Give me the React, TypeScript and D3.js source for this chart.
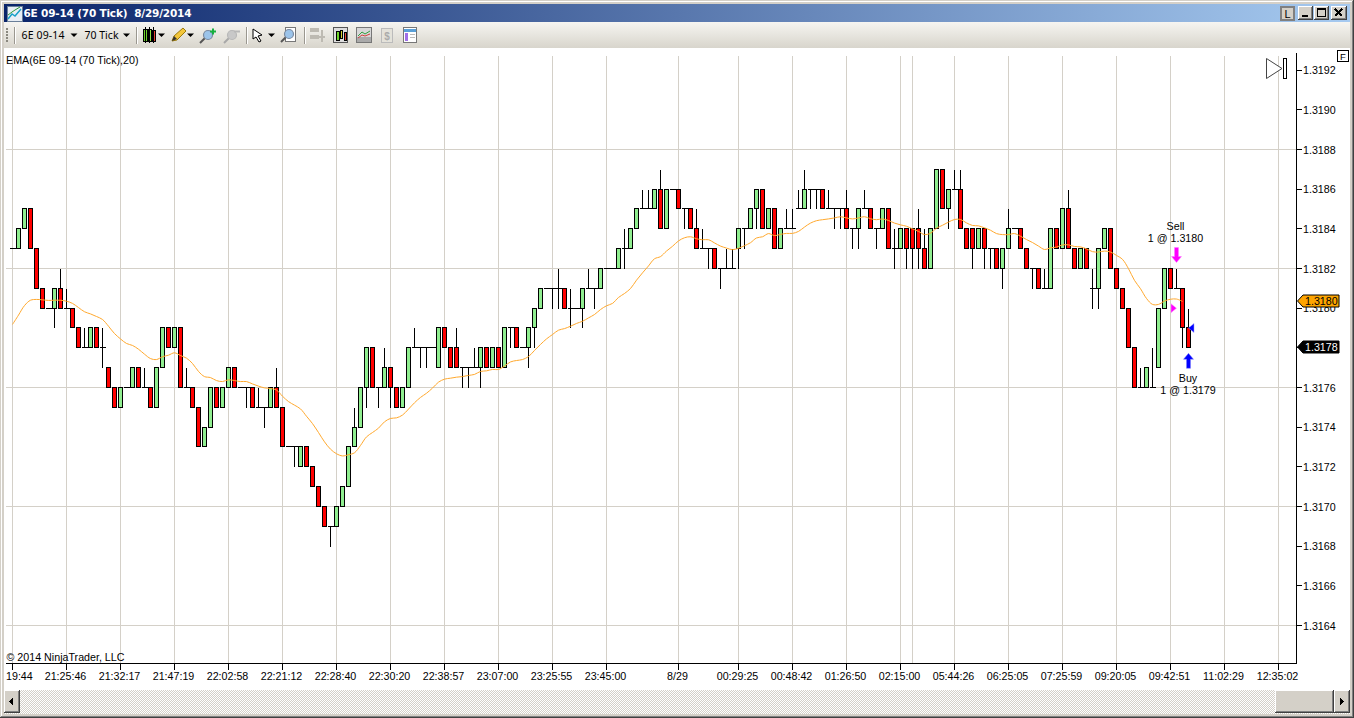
import React from "react";
import * as d3 from "d3";

// All prices are in ticks above 1.3100 (83 = 1.3183).
const opens = [
  83,83,84,85,83,81,80,80,81,80, 80,79,78,78,79,78,77,76,75,76,
  76,77,76,76,75,77,79,78,79,76, 76,75,73,74,76,75,76,77,76,76,
  76,75,75,75,76,75,73,73,72,73, 72,71,70,69,69,70,71,73,74,76,
  78,76,76,77,76,75,76,78,78,78, 78,77,79,78,78,77,77,77,77,78,
  77,78,77,79,79,78,78,79,80,81, 81,81,81,80,80,80,81,81,81,82,
  82,82,83,83,84,85,85,85,86,84, 86,86,85,85,84,83,83,83,82,82,
  82,83,84,84,85,86,84,85,83,84, 84,85,85,86,86,86,85,85,85,85,
  84,84,85,85,84,84,85,83,83,84, 84,84,83,82,84,87,85,86,86,84,
  84,83,84,83,83,82,83,84,84,83, 82,82,81,81,84,83,85,83,82,83,
  81,81,83,84,82,81,80,78,76,76, 76,77,80,82,81,81,79,
];
const highs = [
  83,84,85,85,83,81,80,81,82,81, 80,79,79,79,79,79,77,76,76,76,
  77,77,77,76,77,79,79,79,79,77, 76,75,74,76,76,76,77,77,76,76,
  76,76,75,76,77,75,73,73,73,73, 72,71,70,69,70,71,73,75,76,78,
  78,76,78,77,76,76,78,79,78,78, 78,79,79,78,79,77,77,78,78,78,
  78,78,79,79,79,78,79,80,81,81, 81,82,81,81,80,81,82,81,82,82,
  82,83,84,84,85,86,86,86,87,86, 86,86,85,85,85,84,83,83,82,83,
  83,84,84,85,86,86,85,85,84,85, 85,86,87,86,86,86,86,85,85,86,
  84,85,86,85,84,85,85,84,84,84, 84,85,84,84,87,87,86,87,87,84,
  84,84,84,83,83,83,85,84,84,83, 82,82,82,84,84,85,86,83,83,83,
  82,83,84,84,82,81,80,78,77,77, 78,80,82,82,82,81,80,
];
const lows = [
  83,83,84,83,81,80,80,79,80,80, 79,78,78,78,78,77,76,75,75,76,
  76,76,76,75,75,77,78,78,76,76, 75,73,73,74,75,75,76,76,76,75,
  75,75,74,75,75,73,73,72,72,72, 71,70,69,68,69,70,71,73,74,75,
  76,75,76,75,75,75,76,78,77,77, 78,77,78,77,77,76,76,77,76,77,
  77,77,77,78,78,78,77,78,80,81, 80,80,80,79,80,79,81,80,81,82,
  82,82,82,83,84,85,85,85,84,84, 86,85,84,84,83,83,82,82,81,82,
  82,82,83,84,84,84,84,83,83,84, 84,85,85,85,85,85,85,84,84,84,
  83,83,85,84,83,84,83,82,83,82, 82,82,82,82,84,85,84,86,84,83,
  82,83,82,82,82,81,83,84,83,82, 81,81,81,81,83,83,83,82,82,82,
  80,80,83,82,81,80,78,76,76,76, 76,77,80,81,81,78,78,
];
const closes = [
  83,84,85,83,81,80,80,81,80,80, 79,78,78,79,78,78,76,75,76,76,
  77,76,76,75,77,79,78,79,76,76, 75,73,74,76,75,76,77,76,76,76,
  75,75,75,76,75,73,73,73,73,72, 71,70,69,69,70,71,73,74,76,78,
  76,76,77,76,75,76,78,78,78,78, 78,79,78,77,77,77,77,77,78,77,
  78,77,79,79,78,78,79,80,81,81, 81,81,80,80,80,81,81,81,82,82,
  82,83,83,84,85,85,85,86,84,86, 86,85,85,84,83,83,83,82,82,82,
  82,84,84,85,86,84,85,83,84,84, 84,85,86,86,86,85,85,85,85,84,
  84,85,85,84,84,85,83,83,84,83, 83,83,82,84,87,85,86,86,84,83,
  83,84,83,83,82,83,84,84,83,82, 82,81,81,84,83,85,83,82,83,82,
  81,83,84,82,81,80,78,76,76,77, 76,80,82,81,81,79,78,
];
const ema = [
  79.18,79.65,80.13,80.40,80.44,80.42,80.39,80.40,80.40,80.35,
  80.24,80.03,79.82,79.71,79.58,79.43,79.09,78.72,78.45,78.22,
  78.12,77.93,77.68,77.46,77.41,77.55,77.63,77.75,77.61,77.48,
  77.21,76.81,76.55,76.50,76.35,76.30,76.39,76.35,76.30,76.30,
  76.18,76.07,75.98,75.95,75.87,75.56,75.29,75.11,74.92,74.55,
  74.18,73.73,73.26,72.89,72.66,72.55,72.61,72.71,73.08,73.51,
  73.73,73.95,74.27,74.44,74.47,74.61,74.91,75.23,75.50,75.71,
  75.97,76.27,76.42,76.47,76.52,76.55,76.61,76.66,76.81,76.84,
  76.91,76.91,77.08,77.29,77.36,77.41,77.56,77.87,78.17,78.45,
  78.67,78.89,78.97,79.09,79.23,79.34,79.51,79.68,79.93,80.12,
  80.24,80.54,80.74,80.99,81.41,81.78,82.13,82.49,82.60,82.88,
  83.12,83.39,83.55,83.60,83.50,83.45,83.45,83.29,83.13,83.03,
  82.95,83.02,83.15,83.30,83.54,83.60,83.76,83.66,83.72,83.77,
  83.77,83.87,84.09,84.29,84.41,84.46,84.50,84.55,84.61,84.55,
  84.50,84.55,84.61,84.51,84.46,84.50,84.42,84.29,84.20,84.13,
  84.00,83.87,83.71,83.78,84.03,84.18,84.34,84.47,84.47,84.30,
  84.17,84.15,84.05,83.93,83.76,83.71,83.71,83.76,83.63,83.46,
  83.31,83.13,82.96,83.04,83.08,83.19,83.19,83.11,83.09,82.99,
  82.85,82.83,82.88,82.83,82.66,82.46,81.99,81.40,80.98,80.49,
  80.19,80.19,80.36,80.45,80.46,80.34,
];
const timeTickBars = [0,9,18,27,36,45,54,63,72,81,90,99,111,121,130,139,148,157,166,175,184,193,202,211];
const timeTickLabels = [
  "19:44","21:25:46","21:32:17","21:47:19","22:02:58","22:21:12","22:28:40","22:30:20",
  "22:38:57","23:07:00","23:25:55","23:45:00","8/29","00:29:25","00:48:42","01:26:50",
  "02:15:00","05:44:26","06:25:05","07:25:59","09:20:05","09:42:51","11:02:29","12:35:02",
];
const sessionBreakBars = [150];
const priceTicks = [92,90,88,86,84,82,80,78,76,74,72,70,68,66,64];
const priceGrid = [88,82,76,70,64];
const sellBar = 194, sellFill = 80, buyBar = 196, buyFill = 79;

const W = 1354, H = 718;
const AXIS_X = 1296.5, AXIS_Y = 663.5, TOP = 56;
const x = d3.scaleLinear().domain([0, 1]).range([12.5, 18.5]);
const yPrice = d3.scaleLinear().domain([1.3188, 1.3164]).range([149.5, 625.5]);
const y = (t: number) => yPrice(1.31 + t / 10000);
const fmt = d3.format(".4f");
const snap = (v: number) => Math.round(v - 0.5) + 0.5;

const emaPath = d3.line<number>().x((_, i) => x(i)).y((d) => y(d)).curve(d3.curveCatmullRom.alpha(0.5))(ema) as string;

const ARIAL = "'Liberation Sans', Arial, sans-serif";
const UI = "'Noto Sans', 'DejaVu Sans', sans-serif";

const Tri = ({ cx, cy }: { cx: number; cy: number }) => (
  <path d={`M${cx - 3.5} ${cy - 1.5}h7l-3.5 3.5z`} fill="#000" />
);
const Sep = ({ px }: { px: number }) => (
  <g shapeRendering="crispEdges">
    <line x1={px} x2={px} y1={27} y2={44} stroke="#9a978f" />
    <line x1={px + 1} x2={px + 1} y1={27} y2={44} stroke="#fff" />
  </g>
);
const Btn3D = ({ bx, by, w, h, children }: any) => (
  <g shapeRendering="crispEdges">
    <rect x={bx} y={by} width={w} height={h} fill="#D4D0C8" />
    <path d={`M${bx + 0.5} ${by + h}V${by + 0.5}H${bx + w}`} stroke="#fff" fill="none" />
    <path d={`M${bx} ${by + h - 0.5}H${bx + w - 0.5}V${by}`} stroke="#404040" fill="none" />
    <path d={`M${bx + 1} ${by + h - 1.5}H${bx + w - 1.5}V${by + 1}`} stroke="#808080" fill="none" />
    {children}
  </g>
);
const Magnifier = ({ cx, cy, gray }: { cx: number; cy: number; gray?: boolean }) => (
  <g>
    <line x1={cx - 7} y1={cy + 7} x2={cx - 2} y2={cy + 2} stroke={gray ? "#a8a8a8" : "#555"} strokeWidth={2} />
    <circle cx={cx + 1} cy={cy - 1} r={4.5} fill={gray ? "#c8c8c8" : "#9cc4ea"} stroke={gray ? "#b8b8b8" : "#7a8aa0"} strokeWidth={1.2} />
  </g>
);

function Chrome() {
  return (
    <g>
      <rect width={W} height={H} fill="#D4D0C8" />
      <g shapeRendering="crispEdges">
        <line x1={0} x2={W} y1={0.5} y2={0.5} stroke="#D4D0C8" />
        <line x1={1} x2={W - 2} y1={1.5} y2={1.5} stroke="#fff" />
        <line x1={1.5} x2={1.5} y1={1} y2={H - 2} stroke="#fff" />
        <line x1={W - 0.5} x2={W - 0.5} y1={0} y2={H} stroke="#404040" />
        <line x1={W - 1.5} x2={W - 1.5} y1={1} y2={H - 1} stroke="#808080" />
        <line x1={0} x2={W} y1={H - 0.5} y2={H - 0.5} stroke="#404040" />
        <line x1={1} x2={W - 1} y1={H - 1.5} y2={H - 1.5} stroke="#808080" />
      </g>
      <rect x={4} y={4} width={1346} height={18} fill="url(#titleGrad)" />
      <g shapeRendering="crispEdges">
        <rect x={7} y={6} width={15} height={15} fill="#e8eef5" stroke="#6a7f99" strokeWidth={1} />
      </g>
      <path d="M8 19l4-5 3 2 6-7" stroke="#16a0c8" strokeWidth={1.5} fill="none" />
      <path d="M8 15l4-3 3-2 5-3" stroke="#2d9a3a" strokeWidth={1} fill="none" />
      <text x={23.5} y={17} fontFamily="'DejaVu Sans', sans-serif" fontWeight="bold" fontSize={10.5} fill="#fff" textLength={168} lengthAdjust="spacing" xmlSpace="preserve">{"6E 09-14 (70 Tick)  8/29/2014"}</text>
      <g shapeRendering="crispEdges">
        <rect x={1281} y={7} width={13} height={13} fill="#D4D0C8" stroke="#808080" strokeWidth={1.5} />
      </g>
      <text x={1287.5} y={17.5} textAnchor="middle" fontFamily={ARIAL} fontSize={11} fill="#000">L</text>
      <Btn3D bx={1298} by={6} w={15} h={14}>
        <rect x={1302} y={15} width={6} height={2} fill="#000" />
      </Btn3D>
      <Btn3D bx={1314} by={6} w={15} h={14}>
        <rect x={1317.5} y={8.5} width={8} height={8} fill="none" stroke="#000" />
        <line x1={1317} x2={1326} y1={9.5} y2={9.5} stroke="#000" />
      </Btn3D>
      <Btn3D bx={1331} by={6} w={16} h={14}>
        <path d="M1335 9l7 7M1342 9l-7 7" stroke="#000" strokeWidth={1.6} />
      </Btn3D>

      <rect x={4} y={22} width={1346} height={26} fill="url(#toolGrad)" />
      <g fill="#8a887f">
        {[28, 31, 34, 37, 40].map((v) => <rect key={v} x={6} y={v} width={2} height={2} />)}
      </g>
      <Sep px={14.5} />
      <text x={21.5} y={39} fontFamily={UI} fontSize={10.5} fill="#000" textLength={43}>6E 09-14</text>
      <Tri cx={74} cy={35} />
      <text x={84.5} y={39} fontFamily={UI} fontSize={10.5} fill="#000" textLength={34}>70 Tick</text>
      <Tri cx={126.5} cy={35} />
      <Sep px={136.5} />
      <g shapeRendering="crispEdges">
        <rect x={143} y={29} width={4} height={12} fill="#6fd42c" stroke="#000" />
        <rect x={148} y={29} width={3} height={12} fill="#8fe040" stroke="#000" />
        <rect x={152} y={30} width={3} height={11} fill="#e84030" stroke="#000" />
        <line x1={145} x2={145} y1={27} y2={43} stroke="#000" />
        <line x1={149.5} x2={149.5} y1={27} y2={43} stroke="#000" />
        <line x1={153.5} x2={153.5} y1={27} y2={43} stroke="#000" />
      </g>
      <Tri cx={161.5} cy={35} />
      <path d="M172 41l2-5 9-8 3 3-9 9z" fill="#f3c63a" stroke="#9a7a10" />
      <path d="M172 41l2-5 3 3z" fill="#333" />
      <Tri cx={190.5} cy={35} />
      <Magnifier cx={207} cy={36} />
      <path d="M210 31.5h6M213 28.5v6" stroke="#16b040" strokeWidth={2} />
      <Magnifier cx={231} cy={36} gray />
      <path d="M234 31.5h6" stroke="#b8b8b8" strokeWidth={2} />
      <Sep px={246.5} />
      <path d="M253 29v10l3-2 3 5 2-1-3-5 4-1z" fill="#fff" stroke="#000" />
      <Tri cx={271.5} cy={35} />
      <rect x={285.5} y={27.5} width={10} height={14} fill="#fff" stroke="#777" />
      <Magnifier cx={288} cy={35} />
      <Sep px={304.5} />
      <g fill="#bdbab2" shapeRendering="crispEdges">
        <rect x={310} y={28} width={9} height={4} />
        <rect x={310} y={35} width={9} height={4} />
        <rect x={321} y={30} width={2} height={12} />
        <rect x={317} y={36} width={8} height={2} />
      </g>
      <g shapeRendering="crispEdges">
        <rect x={333.5} y={27.5} width={14} height={15} fill="#ddd" stroke="#555" />
        <rect x={336} y={31} width={3} height={9} fill="#6fd42c" stroke="#000" />
        <rect x={340} y={30} width={2} height={8} fill="#d8d030" stroke="#000" />
        <rect x={344} y={32} width={2} height={8} fill="#e84030" stroke="#000" />
        <rect x={356.5} y={27.5} width={15} height={15} fill="#d8d8d8" stroke="#777" />
        <rect x={357} y={37} width={14} height={5} fill="#aaa" />
      </g>
      <path d="M358 36l4-4 3 2 5-3" stroke="#30a040" fill="none" />
      <path d="M358 38l4-3 3 1 5-2" stroke="#d04040" fill="none" />
      <rect x={381.5} y={28.5} width={11} height={14} fill="#e4e2da" stroke="#bbb" shapeRendering="crispEdges" />
      <text x={387} y={39.5} textAnchor="middle" fontFamily={ARIAL} fontWeight="bold" fontSize={10} fill="#aaa">$</text>
      <g shapeRendering="crispEdges">
        <rect x={403.5} y={27.5} width={13} height={15} fill="#fff" stroke="#777" />
        <rect x={404} y={29} width={12} height={3} fill="#5aa0d8" />
        <rect x={405} y={33} width={3} height={8} fill="#a070e8" />
        <rect x={410} y={34} width={5} height={1} fill="#bbb" />
        <rect x={410} y={37} width={5} height={1} fill="#bbb" />
      </g>

      <rect x={4} y={48} width={1346} height={642} fill="#fff" />

      <rect x={4} y={690} width={1346} height={24} fill="url(#dither)" />
      <Btn3D bx={4} by={690} w={16} h={23}>
        <path d="M9 701.5l4-4v8z" fill="#000" />
      </Btn3D>
      <Btn3D bx={1275} by={690} w={59} h={23} />
      <Btn3D bx={1334} by={690} w={16} h={23}>
        <path d="M1344 701.5l-4-4v8z" fill="#000" />
      </Btn3D>
    </g>
  );
}

function Plot() {
  const gridColor = "#D4D0C8";
  return (
    <g>
      <g stroke={gridColor} shapeRendering="crispEdges">
        {[...timeTickBars, ...sessionBreakBars].map((b) => (
          <line key={b} x1={x(b)} x2={x(b)} y1={TOP} y2={AXIS_Y} />
        ))}
        {priceGrid.map((t) => (
          <line key={t} x1={6} x2={AXIS_X} y1={snap(y(t))} y2={snap(y(t))} />
        ))}
      </g>

      <g shapeRendering="crispEdges">
        {opens.map((o, i) => {
          const cx = x(i), h = highs[i], l = lows[i], c = closes[i];
          const top = snap(y(Math.max(o, c))), bot = snap(y(Math.min(o, c)));
          return (
            <g key={i}>
              {h !== l && <line x1={cx} x2={cx} y1={snap(y(h))} y2={snap(y(l))} stroke="#000" />}
              {o === c ? (
                <line x1={cx - 3} x2={cx + 3} y1={top} y2={top} stroke="#000" />
              ) : (
                <rect x={cx - 2} y={top} width={4} height={bot - top} fill={c > o ? "#90EE90" : "#FF0000"} stroke="#000" />
              )}
            </g>
          );
        })}
      </g>

      <path d={emaPath} fill="none" stroke="#FFA92E" strokeWidth={1} />

      <g shapeRendering="crispEdges" stroke="#000">
        <line x1={AXIS_X} x2={AXIS_X} y1={53} y2={AXIS_Y + 0.5} />
        <line x1={6} x2={AXIS_X} y1={AXIS_Y} y2={AXIS_Y} />
        {timeTickBars.map((b) => (
          <line key={b} x1={x(b)} x2={x(b)} y1={AXIS_Y} y2={AXIS_Y + 6} />
        ))}
        {priceTicks.map((t) => (
          <line key={t} x1={AXIS_X} x2={AXIS_X + 5} y1={snap(y(t))} y2={snap(y(t))} />
        ))}
      </g>
      <g fontFamily={ARIAL} fontSize={10.7} fill="#000">
        {timeTickLabels.map((s, i) =>
          i === 0 ? (
            <text key={s} x={6} y={680}>{s}</text>
          ) : (
            <text key={s} x={x(timeTickBars[i]) - 1} y={680} textAnchor="middle">{s}</text>
          )
        )}
        {priceTicks.map((t) => (
          <text key={t} x={1303} y={y(t) + 4}>{fmt(1.31 + t / 10000)}</text>
        ))}
        <text x={6} y={64}>EMA(6E 09-14 (70 Tick),20)</text>
        <text x={6.5} y={661}>© 2014 NinjaTrader, LLC</text>
      </g>

      <rect x={1337.5} y={50.5} width={11} height={11} fill="#fff" stroke="#000" shapeRendering="crispEdges" />
      <text x={1343} y={60} textAnchor="middle" fontFamily={ARIAL} fontSize={9.5} fill="#000">F</text>

      <path d="M1266.5 58.5L1282 68.5L1266.5 78.5Z" fill="#fff" stroke="#444" />
      <rect x={1283.5} y={58.5} width={3} height={20} fill="#fff" stroke="#000" shapeRendering="crispEdges" />

      <g fontFamily={ARIAL} fontSize={10.7} fill="#000" textAnchor="middle">
        <text x={x(sellBar) - 1} y={y(highs[sellBar]) - 39}>Sell</text>
        <text x={x(sellBar) - 1} y={y(highs[sellBar]) - 27}>1 @ 1.3180</text>
        <text x={x(buyBar) - 0.5} y={y(lows[buyBar]) + 34}>Buy</text>
        <text x={x(buyBar) - 0.5} y={y(lows[buyBar]) + 46}>1 @ 1.3179</text>
      </g>
      <g transform={`translate(${x(sellBar)},${y(highs[sellBar]) - 6})`}>
        <path d="M-2-15h4v9h3l-5 6l-5-6h3z" fill="#FF00FF" stroke="#FF80FF" strokeWidth={0.5} />
      </g>
      <g transform={`translate(${x(buyBar)},${y(lows[buyBar]) + 5.5})`}>
        <path d="M-2 15h4v-9h3l-5-6l-5 6h3z" fill="#0000FF" stroke="#8080FF" strokeWidth={0.5} />
      </g>
      <path d={`M${x(sellBar) - 5.5} ${y(sellFill) - 4.5}v9l5.5-4.5z`} fill="#FF00FF" stroke="#FFA0FF" strokeWidth={0.5} />
      <path d={`M${x(buyBar) + 5.5} ${y(buyFill) - 4.5}v9l-5.5-4.5z`} fill="#0000FF" stroke="#A0A0FF" strokeWidth={0.5} />

      <Flag price={ema[ema.length - 1]} fill="#FFA500" color="#000" />
      <Flag price={closes[closes.length - 1]} fill="#000" color="#fff" />
    </g>
  );
}

function Flag({ price, fill, color }: { price: number; fill: string; color: string }) {
  const cy = snap(y(price)) - 0.5;
  return (
    <g>
      <path d={`M1297.5 ${cy}l5.5-6h36v12h-36z`} fill={fill} stroke="#000" />
      <text x={1305} y={cy + 4} fontFamily={ARIAL} fontSize={10.7} fill={color}>{fmt(1.31 + Math.round(price) / 10000)}</text>
    </g>
  );
}

export default function App() {
  return (
    <svg width={W} height={H} viewBox={`0 0 ${W} ${H}`} style={{ position: "fixed", left: 0, top: 0, display: "block" }}>
      <defs>
        <linearGradient id="titleGrad" x1="0" x2="1" y1="0" y2="0">
          <stop offset="0" stopColor="#0A246A" />
          <stop offset="1" stopColor="#A6CAF0" />
        </linearGradient>
        <linearGradient id="toolGrad" x1="0" x2="0" y1="0" y2="1">
          <stop offset="0" stopColor="#F6F5F1" />
          <stop offset="1" stopColor="#D8D5CC" />
        </linearGradient>
        <pattern id="dither" width={2} height={2} patternUnits="userSpaceOnUse">
          <rect width={2} height={2} fill="#D4D0C8" />
          <rect width={1} height={1} fill="#fff" />
          <rect x={1} y={1} width={1} height={1} fill="#fff" />
        </pattern>
      </defs>
      <Chrome />
      <Plot />
    </svg>
  );
}
